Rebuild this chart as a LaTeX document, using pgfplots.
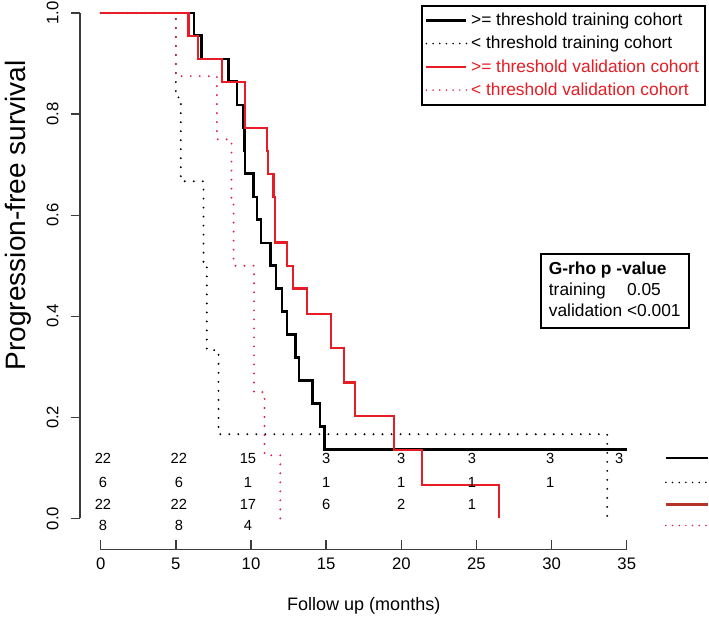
\documentclass[border=0pt]{standalone}
\usepackage{fontspec}
\setmainfont{Liberation Sans}
\usepackage{pgfplots}
\usepackage{pgfplotstable}
\pgfplotsset{compat=1.18}
\definecolor{valred}{RGB}{232,28,36}
\definecolor{valdot}{RGB}{222,34,72}
\definecolor{riskred}{RGB}{185,52,40}
\definecolor{axgray}{RGB}{60,60,60}

% Kaplan-Meier steps (time in months, survival)
\pgfplotstableread{
t s
0 1
6.2 0.955
6.7 0.909
8.5 0.864
9.06 0.818
9.46 0.773
9.55 0.727
9.6 0.682
10.17 0.636
10.4 0.591
10.66 0.545
11.28 0.5
11.66 0.455
12.06 0.409
12.4 0.364
12.95 0.318
13.2 0.273
14.1 0.227
14.6 0.182
14.9 0.136
35 0.136
}\trainhi
\pgfplotstableread{
t s
0 1
5.0 0.833
5.33 0.667
6.84 0.5
7.06 0.333
7.84 0.1667
33.7 0
}\trainlo
\pgfplotstableread{
t s
0 1
5.84 0.955
6.5 0.909
8.06 0.864
9.6 0.773
11.06 0.727
11.15 0.682
11.5 0.636
11.6 0.546
12.4 0.5
12.77 0.455
13.73 0.404
15.35 0.337
16.2 0.269
16.9 0.202
19.5 0.135
21.4 0.067
26.5 0
}\valhi
\pgfplotstableread{
t s
0 1
5.0 0.875
7.73 0.75
8.7 0.625
8.84 0.5
10.2 0.25
10.9 0.125
11.95 0
}\vallo

\begin{document}
\begin{tikzpicture}
\begin{axis}[
  scale only axis, width=409.5pt, height=401.8pt,
  xmin=-1.38, xmax=35, ymin=-0.0614, ymax=1,
  axis lines=left, axis line style={draw=none},
  clip=false,
  xtick={0,5,...,35}, ytick={0,0.2,...,1},
  xtick align=inside, ytick align=outside,
  major tick length=6.75pt,
  every tick/.style={axgray, line width=1pt},
  tick label style={font=\fontsize{12.5}{14}\selectfont},
  /pgf/number format/assume math mode=true,
  yticklabel={\pgfmathprintnumber[fixed,fixed zerofill,precision=1]{\tick}},
  yticklabel style={rotate=90, anchor=south, inner sep=0pt},
  yticklabel shift=9pt,
  xticklabel style={inner sep=0pt},
  xticklabel shift=6pt,
  legend cell align=left,
  legend image code/.code={\draw[#1] (0pt,0pt) -- (30pt,0pt);},
  legend style={at={(1.1447,1.0155)}, anchor=north east, draw=black,
    line width=1.5pt, fill=white, font=\fontsize{13}{15.5}\selectfont,
    nodes={inner xsep=2.5pt, inner ysep=1pt}, row sep=4.5pt,
    inner xsep=2pt, inner ysep=4.5pt},
  dotline/.style={line width=1.6pt, line cap=round, dash pattern=on 0pt off 6.75pt},
  dotkey/.style={legend image post style={line width=1.3pt, dash pattern=on 0pt off 5pt}},
]
\addplot[const plot, black, line width=2pt] table {\trainhi};
\addlegendentry{>= threshold training cohort}
\addplot[const plot, black, dotline, dotkey] table {\trainlo};
\addlegendentry{< threshold training cohort}
\addplot[const plot, valred, line width=1.6pt] table {\valhi};
\addlegendentry{\textcolor{valred}{>= threshold validation cohort}}
\addplot[const plot, valdot, dotline, dotkey] table {\vallo};
\addlegendentry{\textcolor{valred}{< threshold validation cohort}}

% axis lines drawn over the tick range only (R style)
\draw[axgray, line width=1pt] (axis cs:0,-0.0614) -- (axis cs:35,-0.0614);
\draw[axgray, line width=1pt] (axis cs:-1.38,0) -- (axis cs:-1.38,1);

% number at risk
\begin{scope}[font=\fontsize{11}{13}\selectfont]
\node at (axis cs:0.15,0.119) {22};
\node at (axis cs:5.2,0.119) {22};
\node at (axis cs:9.8,0.119) {15};
\node at (axis cs:15,0.119) {3};
\node at (axis cs:20,0.119) {3};
\node at (axis cs:24.7,0.119) {3};
\node at (axis cs:29.9,0.119) {3};
\node at (axis cs:34.5,0.119) {3};
\node at (axis cs:0.15,0.0713) {6};
\node at (axis cs:5.2,0.0713) {6};
\node at (axis cs:9.8,0.0713) {1};
\node at (axis cs:15,0.0713) {1};
\node at (axis cs:20,0.0713) {1};
\node at (axis cs:24.7,0.0713) {1};
\node at (axis cs:29.9,0.0713) {1};
\node at (axis cs:0.15,0.0277) {22};
\node at (axis cs:5.2,0.0277) {22};
\node at (axis cs:9.8,0.0277) {17};
\node at (axis cs:15,0.0277) {6};
\node at (axis cs:20,0.0277) {2};
\node at (axis cs:24.7,0.0277) {1};
\node at (axis cs:0.15,-0.0139) {8};
\node at (axis cs:5.2,-0.0139) {8};
\node at (axis cs:9.8,-0.0139) {4};
\end{scope}

% line keys of the risk table
\addplot[black, line width=1.6pt, forget plot] coordinates {(37.6,0.119) (40.4,0.119)};
\addplot[black, line width=1.3pt, line cap=round, dash pattern=on 0pt off 5pt, forget plot] coordinates {(37.6,0.0713) (40.4,0.0713)};
\addplot[riskred, line width=1.6pt, forget plot] coordinates {(37.6,0.0277) (40.4,0.0277)};
\addplot[valdot, line width=1.3pt, line cap=round, dash pattern=on 0pt off 5pt, forget plot] coordinates {(37.6,-0.0139) (40.4,-0.0139)};

% p-value box
\node[draw=black, line width=1.5pt, anchor=north west, inner xsep=6pt, inner ysep=4pt,
  font=\fontsize{13}{15.75}\selectfont] at (axis cs:29.22,0.5248)
  {\begin{tabular}{@{}l@{ }l@{}}
   \multicolumn{2}{@{}l@{}}{\textbf{G-rho p -value}}\\
   training & 0.05\\
   validation & <0.001
   \end{tabular}};

% axis titles
\node[font=\fontsize{13.5}{16}\selectfont] at (axis cs:17.5,-0.172) {Follow up (months)};
\node[rotate=90, font=\fontsize{21}{25}\selectfont] at (axis cs:-5.5,0.6) {Progression-free survival};

% page extent of the reference picture
\path (axis cs:-6.70,-0.1976) rectangle (axis cs:40.47,1.0257);
\end{axis}
\end{tikzpicture}
\end{document}
